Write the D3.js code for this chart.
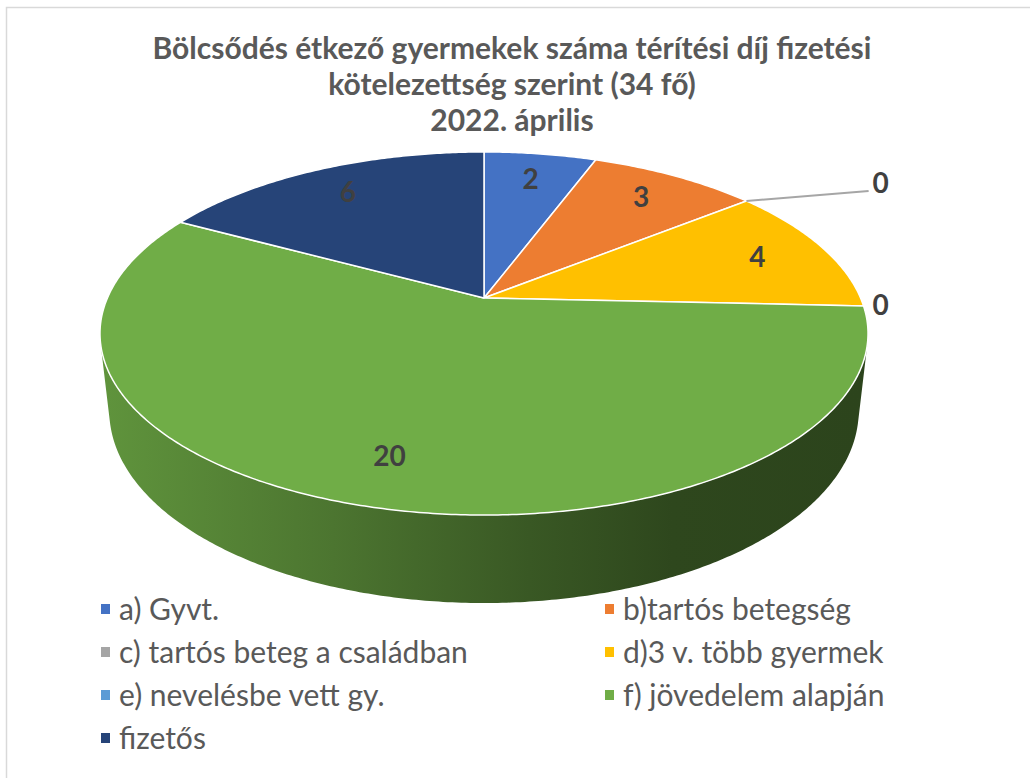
<!DOCTYPE html>
<html>
<head>
<meta charset="utf-8">
<script src="https://cdn.jsdelivr.net/npm/d3@7"></script>
<style>
  body { margin: 0; background: #fff; }
  text { font-family: Lato, "Open Sans", sans-serif; }
</style>
</head>
<body>
<svg id="chart" width="1030" height="778"></svg>
<script>
// data
var categories = ["a) Gyvt.", "b)tartós betegség", "c) tartós beteg a családban", "d)3 v. több gyermek",
  "e) nevelésbe vett gy.", "f) jövedelem alapján", "fizetős"];
var values = [2, 3, 0, 4, 0, 20, 6];
var colors = ["#4472c4", "#ed7d31", "#a5a5a5", "#ffc000", "#5b9bd5", "#70ad47", "#264478"];
var titleLines = ["Bölcsődés étkező gyermekek száma térítési díj fizetési", "kötelezettség szerint (34 fő)", "2022. április"];

var width = 1030, height = 778;
var svg = d3.select('#chart');

// frame
svg.append('rect').attr('x', 6.5).attr('y', 7.5).attr('width', 1100).attr('height', 900)
  .attr('fill', 'none').attr('stroke', '#d9d9d9').attr('stroke-width', 1.5);

// perspective setup for the 3d pie
var cx = 484, cy = 298, S = 376.6;
var sinP = 0.4636, cosP = Math.sqrt(1 - sinP * sinP), D = 4.53, H = 0.234;

function proj(rho, theta, Y) {
  var X = rho * Math.sin(theta), Z = -rho * Math.cos(theta);
  var depth = D - Y * sinP - Z * cosP;
  var up = Y * cosP - Z * sinP;
  return [cx + S * D * X / depth, cy - S * D * up / depth];
}

function arcPts(a0, a1, Y) {
  var n = Math.max(2, Math.ceil((a1 - a0) / 0.01));
  return d3.range(n + 1).map(function (i) { return proj(1, a0 + (a1 - a0) * i / n, Y); });
}

var pie = d3.pie().sort(null).value(function (d) { return d; }).startAngle(0).endAngle(2 * Math.PI);
var arcs = pie(values);
var line = d3.line();

// side gradients, light on the left, dark on the right
var defs = svg.append('defs');
colors.forEach(function (c, i) {
  var g = defs.append('linearGradient').attr('id', 'side' + i)
    .attr('gradientUnits', 'userSpaceOnUse')
    .attr('x1', cx - S).attr('x2', cx + S).attr('y1', 0).attr('y2', 0);
  [[0, 0.45], [0.3, 1.1], [0.56, 1.9], [0.75, 2.5], [1, 2.6]].forEach(function (s) {
    g.append('stop').attr('offset', s[0]).attr('stop-color', d3.color(c).darker(s[1]).formatHex());
  });
});

// front facing range of the side wall
var tf = Math.acos(-1 / (D * cosP));
var sides = svg.append('g');
arcs.forEach(function (d, i) {
  var a0 = Math.max(d.startAngle, tf), a1 = Math.min(d.endAngle, 2 * Math.PI - tf);
  if (a1 <= a0) return;
  var pts = arcPts(a0, a1, 0).concat(arcPts(a0, a1, -H).reverse());
  sides.append('path').attr('d', line(pts) + 'Z').attr('fill', 'url(#side' + i + ')');
});

// top faces
var tops = svg.append('g');
var center = proj(0, 0, 0);
arcs.forEach(function (d, i) {
  if (d.value === 0) return;
  var pts = [center].concat(arcPts(d.startAngle, d.endAngle, 0));
  tops.append('path').attr('d', line(pts) + 'Z')
    .attr('fill', colors[i]).attr('stroke', '#fff').attr('stroke-width', 1.5).attr('stroke-linejoin', 'round');
});

// data labels
var labels = svg.append('g').attr('font-weight', 'bold').attr('font-size', 28).attr('fill', '#404040')
  .attr('text-anchor', 'middle');
var zeroCount = 0;
arcs.forEach(function (d, i) {
  var mid = (d.startAngle + d.endAngle) / 2;
  if (d.value === 0) {
    var e = proj(1, mid, 0);
    var lx = cx + S + 20, ly = zeroCount === 0 ? e[1] - 18 : e[1] - 1;
    if (zeroCount === 0) {
      svg.append('path').attr('d', line([e, [lx - 12, ly + 8]]))
        .attr('stroke', '#a6a6a6').attr('stroke-width', 2).attr('fill', 'none');
    }
    labels.append('text').attr('x', lx).attr('y', ly).attr('dy', '0.35em').text(d.value);
    zeroCount++;
    return;
  }
  var p = proj(0.8, mid, 0);
  labels.append('text').attr('x', p[0]).attr('y', p[1]).attr('dy', '0.35em').text(d.value);
});

// title
svg.append('g').selectAll('text').data(titleLines).enter().append('text')
  .attr('x', 512).attr('y', function (d, i) { return 48 + i * 36; })
  .attr('dy', '0.35em').attr('text-anchor', 'middle')
  .attr('font-weight', 'bold').attr('font-size', 30).attr('fill', '#595959')
  .text(function (d) { return d; });

// legend, two columns
var legend = svg.append('g').selectAll('g').data(categories).enter().append('g')
  .attr('transform', function (d, i) {
    return 'translate(' + (i % 2 === 0 ? 101 : 605) + ',' + (609 + Math.floor(i / 2) * 43) + ')';
  });
legend.append('rect').attr('x', 0).attr('y', -5).attr('width', 9).attr('height', 10)
  .attr('fill', function (d, i) { return colors[i]; });
legend.append('text').attr('x', 18).attr('dy', '0.35em').attr('font-size', 30).attr('fill', '#595959')
  .text(function (d) { return d; });
</script>
</body>
</html>
